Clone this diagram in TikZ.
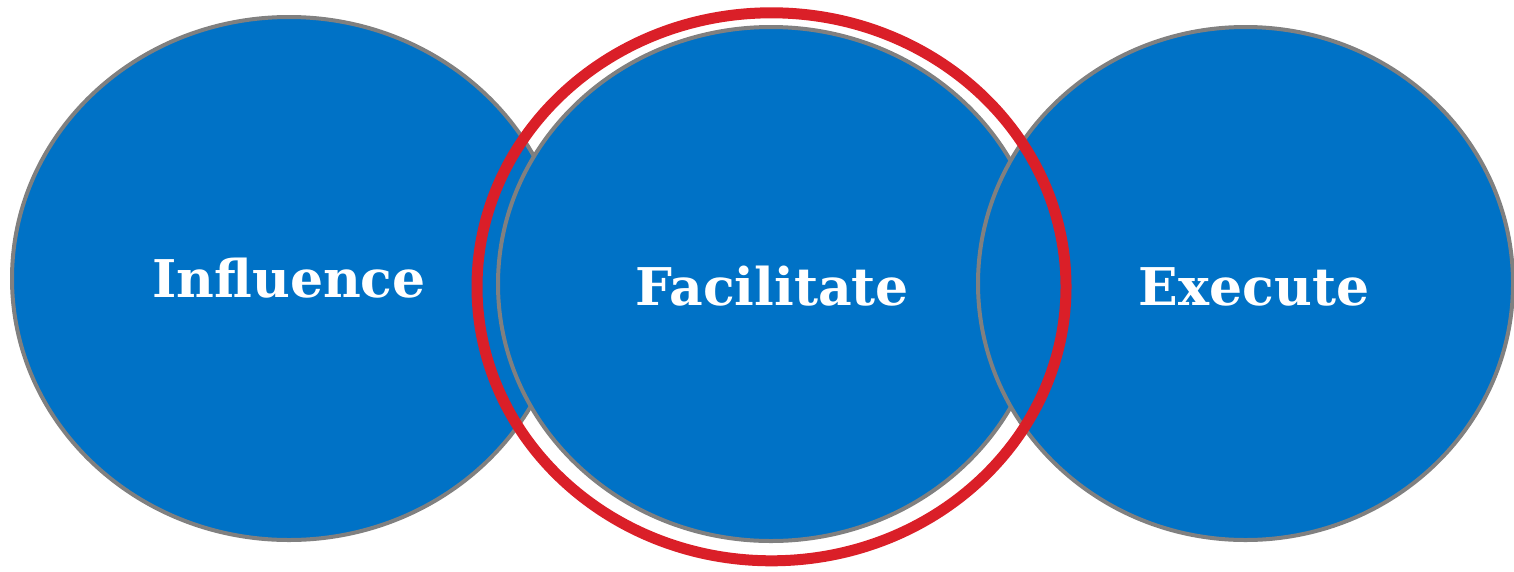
\documentclass[tikz,border=0pt]{standalone}
\usepackage{fontspec}
\setmainfont{DejaVu Serif}
\usetikzlibrary{shapes.geometric}
\definecolor{cblue}{RGB}{0,114,198}
\definecolor{cgray}{RGB}{128,128,128}
\definecolor{cred}{RGB}{218,31,40}
\begin{document}
\begin{tikzpicture}[x=1pt,y=-1pt,
  circ/.style={ellipse, draw=cgray, fill=cblue, line width=4pt, inner sep=0pt},
  ring/.style={ellipse, draw=cred, line width=11pt, inner sep=0pt},
  lbl/.style={text=white, font=\fontsize{52}{52}\selectfont\bfseries, anchor=base, inner sep=0pt}]
\useasboundingbox (0,0) rectangle (1514,571);
\node[circ, minimum width=554pt, minimum height=523pt] (infl) at (289,278.5) {};
\node[circ, minimum width=546pt, minimum height=514pt] (faci) at (771,284) {};
\node[circ, minimum width=535pt, minimum height=513pt] (exec) at (1245.5,283.5) {};
\node[ring, minimum width=589pt, minimum height=548pt] (hl) at (771.5,286.8) {};
\node[lbl] (tinfl) at (289,297) {Influence};
\node[lbl] (tfaci) at (772,305) {Facilitate};
\node[lbl] (texec) at (1254,305) {Execute};
\end{tikzpicture}
\end{document}
